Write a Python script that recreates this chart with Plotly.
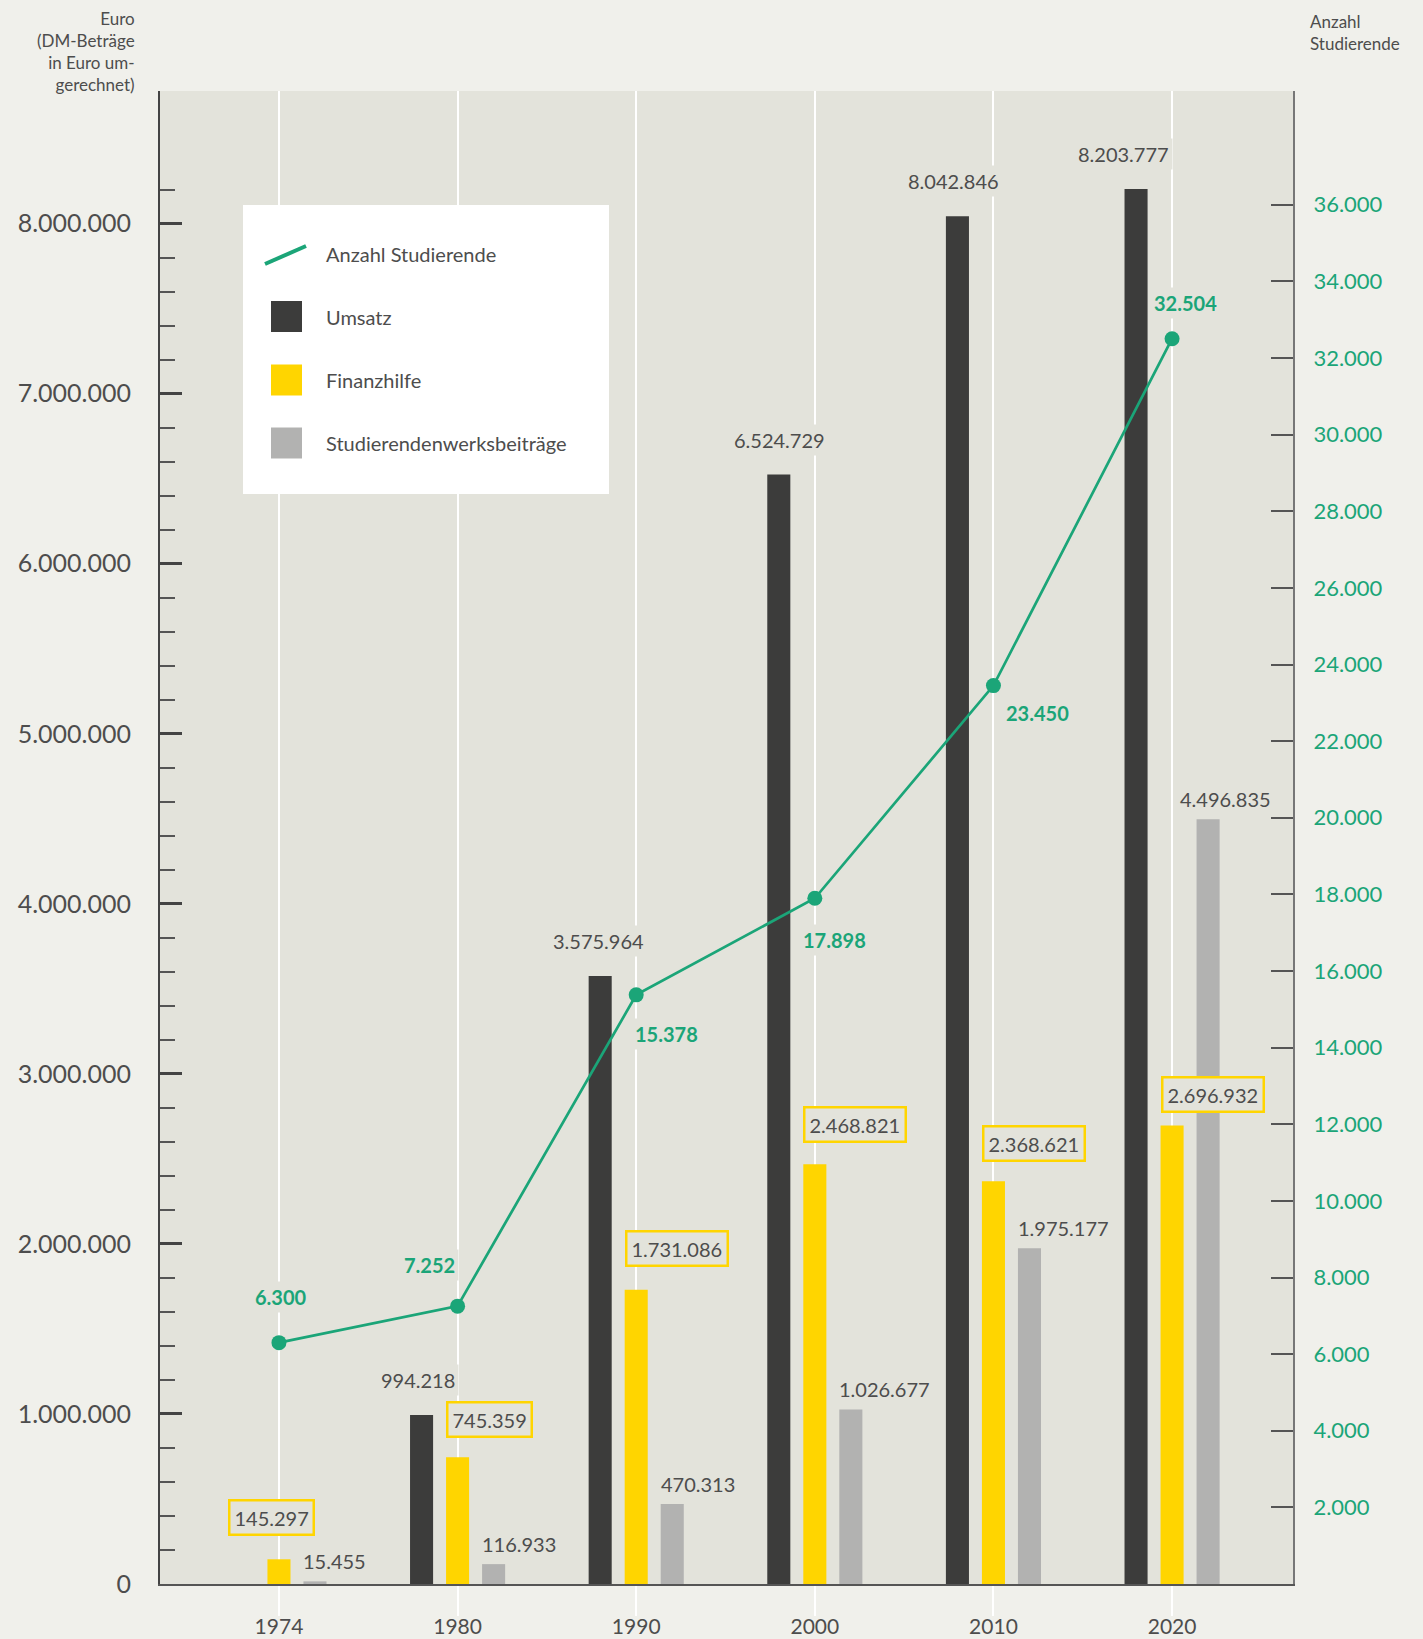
import plotly.graph_objects as go

# ---------------- data ----------------
years = ["1974", "1980", "1990", "2000", "2010", "2020"]
umsatz = [None, 994218, 3575964, 6524729, 8042846, 8203777]
finanzhilfe = [145297, 745359, 1731086, 2468821, 2368621, 2696932]
beitraege = [15455, 116933, 470313, 1026677, 1975177, 4496835]
studierende = [6300, 7252, 15378, 17898, 23450, 32504]

series_names = ["Anzahl Studierende", "Umsatz", "Finanzhilfe", "Studierendenwerksbeiträge"]

euro_ticks = [0, 1000000, 2000000, 3000000, 4000000, 5000000, 6000000, 7000000, 8000000]
euro_minor = [v for v in range(200000, 8200001, 200000) if v % 1000000 != 0]
stud_ticks = list(range(2000, 36001, 2000))

left_title = "Euro<br>(DM-Beträge<br>in Euro um-<br>gerechnet)"
right_title = "Anzahl<br>Studierende"


def de(n):
    return f"{n:,}".replace(",", ".")


euro_ticktext = [de(v) for v in euro_ticks]
stud_ticktext = [de(v) for v in stud_ticks]

# ---------------- style ----------------
W, H = 1423, 1639
ML, MR, MT, MB = 160, 130, 91, 55
PW, PH = W - ML - MR, H - MT - MB

PAPER = "#f0f0eb"
PLOT = "#e3e3db"
DARK = "#3c3c3b"
YELLOW = "#ffd500"
GREY = "#b2b2b1"
GREEN = "#1ba578"
TXT = "#4d4d4d"
FONT = "Lato"

BAR_OFF = 36      # px distance between bars in a group
BAR_HALF = 11.5   # half bar width in px

# per-label fine positioning (px)
ums_dx = [0, -4, -2, 1, -4, -13]
fin_anchor = ["center", "left", "left", "left", "left", "left"]
fin_dx = [-7, -BAR_HALF, -BAR_HALF, -BAR_HALF, -BAR_HALF, -BAR_HALF]
fin_dy = [42, 38, 41, 40, 38, 31]
bei_dx = [0, 0, 0, 0, 0, -17]
stud_dx = [2.5, -28, 30, 20, 44, 13]
stud_dy = [46, 41, -39, -42, -27, 36]


def px_x(x):
    return (x - ML) / PW


def px_y(y):
    return (H - MB - y) / PH


fig = go.Figure()

fig.add_trace(go.Bar(x=years, y=umsatz, name=series_names[1], marker=dict(color=DARK, line_width=0),
                     showlegend=False))
fig.add_trace(go.Bar(x=years, y=finanzhilfe, name=series_names[2], marker=dict(color=YELLOW, line_width=0),
                     showlegend=False))
fig.add_trace(go.Bar(x=years, y=beitraege, name=series_names[3], marker=dict(color=GREY, line_width=0),
                     showlegend=False))
fig.add_trace(go.Scatter(x=years, y=studierende, name=series_names[0], yaxis="y2", mode="lines+markers",
                         line=dict(color=GREEN, width=2.7), marker=dict(color=GREEN, size=15),
                         showlegend=False))

ann = []
lab_font = dict(family=FONT, size=20, color=TXT)
for i, yr in enumerate(years):
    if umsatz[i] is not None:
        ann.append(dict(x=i, y=umsatz[i], xref="x", yref="y", text=de(umsatz[i]), showarrow=False,
                        xanchor="center", yanchor="middle", xshift=-BAR_OFF + ums_dx[i], yshift=35,
                        font=lab_font, bgcolor=PLOT, borderpad=3))
    ann.append(dict(x=i, y=finanzhilfe[i], xref="x", yref="y", text=de(finanzhilfe[i]), showarrow=False,
                    xanchor=fin_anchor[i], yanchor="middle", xshift=fin_dx[i], yshift=fin_dy[i],
                    font=lab_font, bgcolor=PLOT, bordercolor=YELLOW, borderwidth=2.5, borderpad=4))
    ann.append(dict(x=i, y=beitraege[i], xref="x", yref="y", text=de(beitraege[i]), showarrow=False,
                    xanchor="left", yanchor="middle", xshift=BAR_OFF - BAR_HALF - 2 + bei_dx[i], yshift=20,
                    font=lab_font, bgcolor=PLOT, borderpad=1))
    ann.append(dict(x=i, y=studierende[i], xref="x", yref="y2", text="<b>" + de(studierende[i]) + "</b>",
                    showarrow=False, xanchor="center", yanchor="middle", xshift=stud_dx[i], yshift=stud_dy[i],
                    font=dict(family=FONT, size=20, color=GREEN), bgcolor=PLOT, borderpad=3))

# axis titles
ann.append(dict(x=0, y=1, xref="paper", yref="paper", text=left_title, showarrow=False, align="right",
                xanchor="right", yanchor="bottom", xshift=-23, yshift=-6,
                font=dict(family=FONT, size=17, color=TXT)))
ann.append(dict(x=1, y=1, xref="paper", yref="paper", text=right_title, showarrow=False, align="left",
                xanchor="left", yanchor="bottom", xshift=15, yshift=35,
                font=dict(family=FONT, size=17, color=TXT)))

# custom legend
shapes = [dict(type="rect", xref="paper", yref="paper", x0=px_x(243), x1=px_x(609), y0=px_y(494), y1=px_y(205),
               fillcolor="white", line_width=0, layer="above")]
shapes.append(dict(type="line", xref="paper", yref="paper", x0=px_x(265), y0=px_y(264), x1=px_x(306), y1=px_y(246),
                   line=dict(color=GREEN, width=4), layer="above"))
leg_rows = [254, 316.5, 380, 443]
for col, yc in zip([DARK, YELLOW, GREY], leg_rows[1:]):
    shapes.append(dict(type="rect", xref="paper", yref="paper", x0=px_x(271), x1=px_x(302),
                       y0=px_y(yc + 15.5), y1=px_y(yc - 15.5), fillcolor=col, line_width=0, layer="above"))
for name, yc in zip(series_names, leg_rows):
    ann.append(dict(x=px_x(324), y=px_y(yc), xref="paper", yref="paper", text=name, showarrow=False,
                    xanchor="left", yanchor="middle", font=dict(family=FONT, size=20, color=TXT)))

fig.update_layout(
    width=W, height=H,
    margin=dict(l=ML, r=MR, t=MT, b=MB, pad=0, autoexpand=False),
    paper_bgcolor=PAPER, plot_bgcolor=PLOT,
    barmode="group", bargap=0.395, bargroupgap=0.36,
    separators=",.",
    font=dict(family=FONT, color=TXT),
    annotations=ann, shapes=shapes,
    showlegend=False,
    xaxis=dict(type="category", range=[-0.666, 5.677], showgrid=True, gridcolor="white", gridwidth=2,
               ticks="outside", ticklen=30, tickcolor="white", tickwidth=2, automargin=False,
               showline=True, linecolor="#555555", linewidth=2,
               tickfont=dict(family=FONT, size=21, color=TXT), ticklabelstandoff=-7),
    yaxis=dict(range=[0, 8780000], showgrid=False, zeroline=False, automargin=False,
               tickmode="array", tickvals=euro_ticks, ticktext=euro_ticktext,
               ticks="inside", ticklen=22, tickwidth=3, tickcolor="#444444",
               minor=dict(tickmode="array", tickvals=euro_minor, ticks="inside", ticklen=15, tickwidth=2,
                          tickcolor="#555555", showgrid=False),
               showline=True, linecolor="#444444", linewidth=2,
               tickfont=dict(family=FONT, size=25, color=TXT), ticklabelstandoff=22),
    yaxis2=dict(overlaying="y", side="right", range=[0, 38970], showgrid=False, zeroline=False,
                automargin=False,
                tickmode="array", tickvals=stud_ticks, ticktext=stud_ticktext,
                ticks="inside", ticklen=22, tickwidth=1.5, tickcolor="#555555",
                showline=True, linecolor="#777777", linewidth=2,
                tickfont=dict(family=FONT, size=22, color=GREEN), ticklabelstandoff=14),
)

fig.write_html("out.html", config={"displayModeBar": False},
               post_script="document.body.style.margin='0';")
